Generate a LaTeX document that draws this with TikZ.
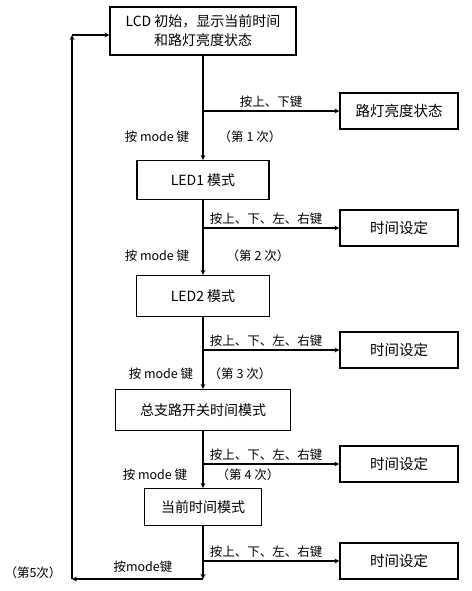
\documentclass[tikz,border=0pt]{standalone}
\usepackage{fontspec}
\setmainfont{Noto Sans CJK SC}
\usetikzlibrary{calc}
\begin{document}
\begin{tikzpicture}[
  x=1pt, y=-1pt,
  modebox/.style={rectangle, draw, line width=1.2pt, minimum height=40pt, align=center, font=\fontsize{14}{19}\selectfont},
  setbox/.style={rectangle, draw, line width=1.2pt, minimum width=118pt, minimum height=36pt, font=\fontsize{14.5}{17}\selectfont},
  lbl/.style={font=\fontsize{12.5}{15}\selectfont, inner sep=1pt},
  keylbl/.style={lbl, above, yshift=2pt, xshift=-5pt},
  flow/.style={->, >=stealth, line width=1.2pt}
]
  \useasboundingbox (0,0) rectangle (471,591);
  % main mode boxes
  \node[modebox, minimum width=186pt, minimum height=48pt] (lcd) at (203,31) {LCD 初始，显示当前时间\\和路灯亮度状态};
  \node[modebox, minimum width=132pt, minimum height=39pt] (led1) at (203,180) {LED1 模式};
  \node[modebox, minimum width=133pt, minimum height=41pt] (led2) at (203,296) {LED2 模式};
  \node[modebox, minimum width=175pt, minimum height=41pt] (branch) at (203,410) {总支路开关时间模式};
  \node[modebox, minimum width=117pt, minimum height=37pt] (now) at (203,507) {当前时间模式};
  
  % setting boxes
  \node[setbox] (lamp) at (399,111) {路灯亮度状态};
  \node[setbox] (set1) at (399,228) {时间设定};
  \node[setbox] (set2) at (399,350) {时间设定};
  \node[setbox] (set3) at (399,464) {时间设定};
  \node[setbox] (set4) at (399,561) {时间设定};
  
  % branch points
  \coordinate (b1) at (203,111);
  \coordinate (b2) at (203,228);
  \coordinate (b3) at (203,350);
  \coordinate (b4) at (203,464);
  \coordinate (b5) at (203,561);
  
  \draw[flow] (lcd) -- (led1);
  \draw[flow] (led1) -- (led2);
  \draw[flow] (led2) -- (branch);
  \draw[flow] (branch) -- (now);
  \draw[flow] (b1) -- node[keylbl, xshift=5pt] {按上、下键} (lamp);
  \draw[flow] (b2) -- node[keylbl] {按上、下、左、右键} (set1);
  \draw[flow] (b3) -- node[keylbl] {按上、下、左、右键} (set2);
  \draw[flow] (b4) -- node[keylbl] {按上、下、左、右键} (set3);
  \draw[flow] (b5) -- node[keylbl] {按上、下、左、右键} (set4);
  
  % mode key labels
  \node[lbl] (m1) at (157,137) {按 mode 键};
  \node[lbl] (n1) at (250,137) {（第 1 次）};
  \node[lbl] (m2) at (157,256) {按 mode 键};
  \node[lbl] (n2) at (258,256) {（第 2 次）};
  \node[lbl] (m3) at (161,374) {按 mode 键};
  \node[lbl] (n3) at (240,374) {（第 3 次）};
  \node[lbl] (m4) at (155,475) {按 mode 键};
  \node[lbl] (n4) at (248,475) {（第 4 次）};
  \node[lbl] (m5) at (143,567) {按mode键};
  \node[lbl] (n5) at (33,573) {（第5次）};
  
  % return path
  \coordinate (r1) at (203,579);
  \coordinate (r2) at (72,579);
  \coordinate (r3) at (72,35);
  \draw[flow] (now) -- (r1);
  \draw[flow] (r1) -- (r2);
  \draw[flow] (r2) -- (r3);
  \draw[flow] (r3) -- (lcd.west |- r3);
\end{tikzpicture}
\end{document}
